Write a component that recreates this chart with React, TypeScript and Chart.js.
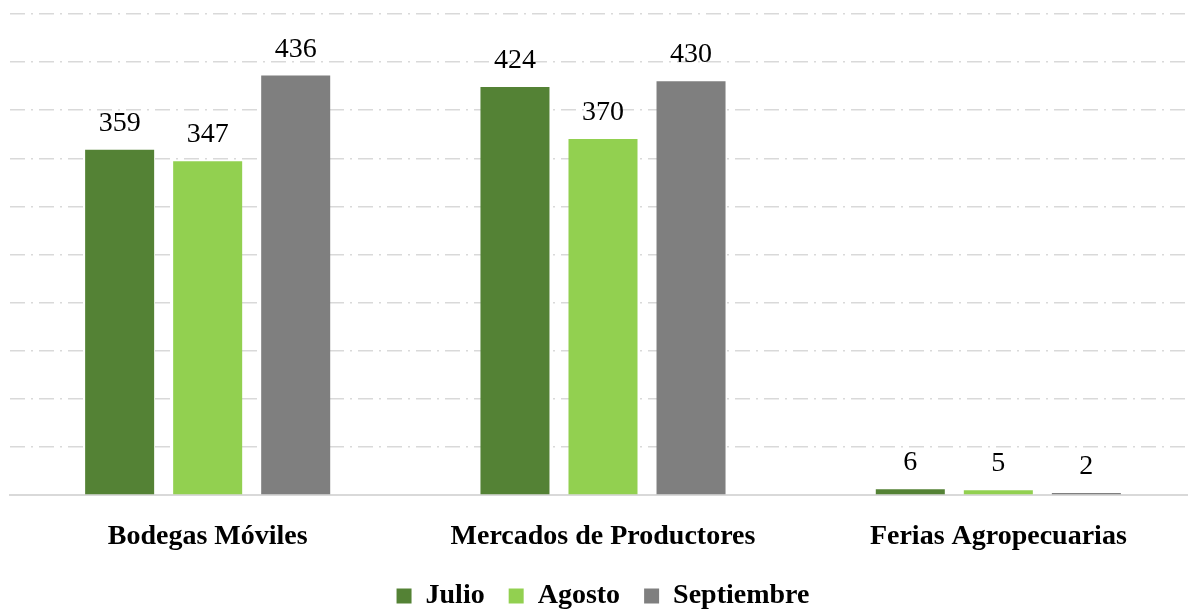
import React, { useEffect, useRef } from "react";
import { Chart, registerables } from "chart.js";

Chart.register(...registerables);

const categories = ["Bodegas Móviles", "Mercados de Productores", "Ferias Agropecuarias"];
const julio = [359, 424, 6];
const agosto = [347, 370, 5];
const septiembre = [436, 430, 2];
const seriesNames = ["Julio", "Agosto", "Septiembre"];
const seriesColors = ["#548235", "#92d050", "#7f7f7f"];

const FONT = "'Liberation Serif', 'Times New Roman', serif";

const valueLabels = {
  id: "valueLabels",
  afterDatasetsDraw(chart: any) {
    const ctx = chart.ctx;
    ctx.save();
    ctx.font = `28px ${FONT}`;
    ctx.fillStyle = "#000";
    ctx.textAlign = "center";
    ctx.textBaseline = "alphabetic";
    chart.data.datasets.forEach((ds: any, i: number) => {
      const meta = chart.getDatasetMeta(i);
      meta.data.forEach((el: any, j: number) => {
        ctx.fillText(String(ds.data[j]), el.x, el.y - 19);
      });
    });
    ctx.restore();
  },
};

const legendShift = {
  id: "legendShift",
  beforeUpdate(chart: any) {
    const lg = chart.legend;
    if (lg && !lg._patched) {
      const fit = lg.fit;
      lg.fit = function () {
        fit.call(this);
        this.height -= 11;
      };
      lg._patched = true;
    }
  },
};

export default function App() {
  const ref = useRef<HTMLCanvasElement>(null);
  useEffect(() => {
    if (!ref.current) return;
    const values = [julio, agosto, septiembre];
    const chart = new Chart(ref.current, {
      type: "bar",
      data: {
        labels: categories,
        datasets: values.map((d, i) => ({
          label: seriesNames[i],
          data: d,
          backgroundColor: seriesColors[i],
          categoryPercentage: 0.668,
          barPercentage: 0.784,
        })),
      },
      options: {
        animation: false,
        responsive: false,
        maintainAspectRatio: false,
        layout: { padding: { left: 10, right: 4, top: 14, bottom: 0 } },
        plugins: {
          tooltip: { enabled: false },
          legend: {
            position: "bottom",
            labels: {
              boxWidth: 15,
              boxHeight: 15,
              padding: 24,
              color: "#000",
              font: { family: FONT, size: 28, weight: "bold" },
            },
          },
        },
        scales: {
          x: {
            grid: { display: false, drawTicks: false },
            border: { display: true, color: "#d9d9d9", width: 2 },
            ticks: {
              color: "#000",
              padding: 25,
              font: { family: FONT, size: 28, weight: "bold" },
            },
            afterFit: (scale: any) => {
              scale.height = 63;
            },
          },
          y: {
            min: 0,
            max: 500,
            ticks: { display: false, stepSize: 50 },
            grid: { color: "#d9d9d9", lineWidth: 1.5, drawTicks: false },
            border: { display: false, dash: [15, 6, 2, 6] },
          },
        },
      },
      plugins: [valueLabels, legendShift],
    });
    return () => chart.destroy();
  }, []);
  return (
    <div style={{ position: "absolute", left: 0, top: 0, width: 1188, height: 609, overflow: "hidden", background: "#fff" }}>
      <canvas ref={ref} width={1200} height={609} style={{ display: "block" }} />
    </div>
  );
}
